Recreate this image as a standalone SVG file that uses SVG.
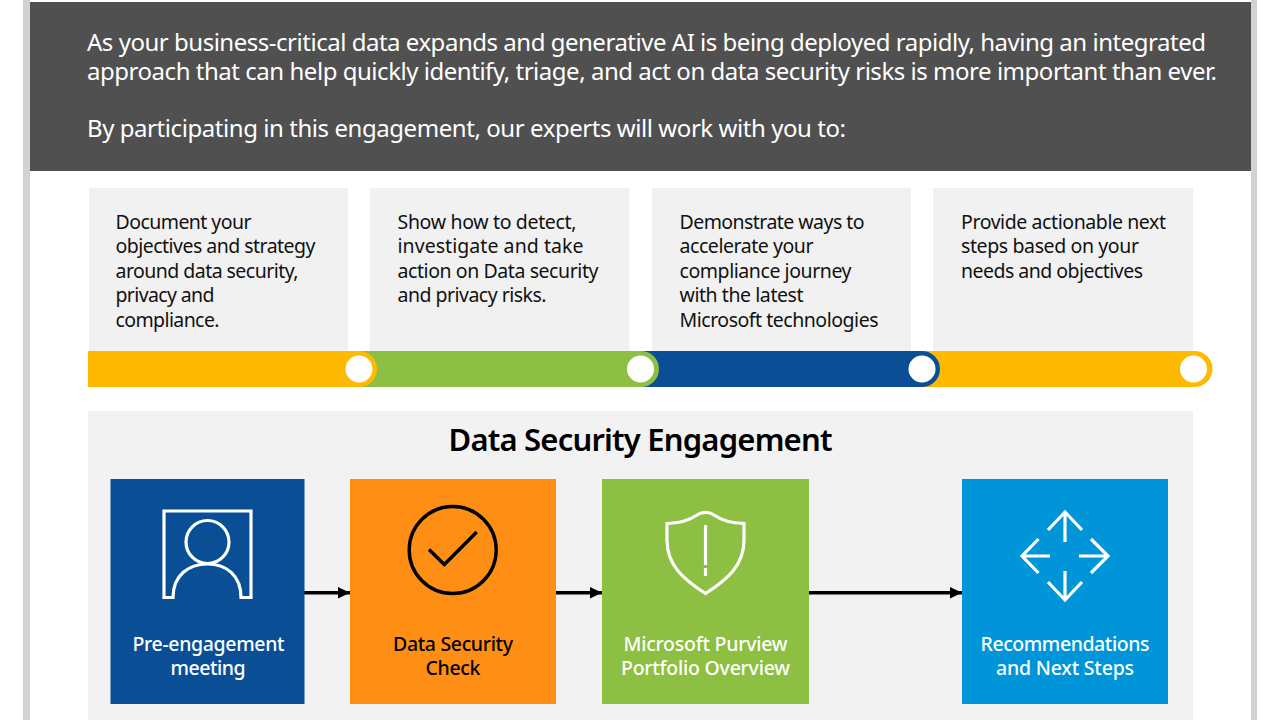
<svg xmlns="http://www.w3.org/2000/svg" width="1280" height="720" viewBox="0 0 1280 720">
<style>
text{font-family:"Noto Sans","Open Sans","Liberation Sans",sans-serif}
.h{fill:#fff;font-size:24px}
.c{fill:#111;font-size:19.5px}
.card{fill:#f1f1f1}
.l{font-size:19.5px;font-weight:500;text-anchor:middle}
.w{fill:#fff}.k{fill:#000}
.iw{fill:none;stroke:#fff;stroke-width:3.2}
.ik{fill:none;stroke:#000;stroke-width:3.4}
.con{stroke:#000;stroke-width:3.6;fill:none;marker-end:url(#arr)}
</style>
<defs><marker id="arr" markerUnits="userSpaceOnUse" markerWidth="12" markerHeight="12" refX="12" refY="6" orient="auto"><path d="M0 0.300L12 6L0 11.700Z" fill="#000"/></marker></defs>
<rect width="1280" height="720" fill="#fff"/>
<rect x="23" y="0" width="7" height="720" fill="#d2d2d2"/>
<rect x="1251" y="0" width="6" height="720" fill="#d2d2d2"/>
<g id="banner">
<rect x="30" y="2" width="1221" height="169" fill="#505050"/>
<text class="h" x="87" y="50.500" textLength="1119">As your business-critical data expands and generative AI is being deployed rapidly, having an integrated</text>
<text class="h" x="87" y="79.500" textLength="1130">approach that can help quickly identify, triage, and act on data security risks is more important than ever.</text>
<text class="h" x="87" y="137" textLength="759">By participating in this engagement, our experts will work with you to:</text>
</g>
<g id="card1"><rect class="card" x="89" y="188" width="259" height="163"/>
<text class="c" x="115.500" y="229" textLength="136">Document your</text><text class="c" x="115.500" y="253" textLength="200">objectives and strategy</text><text class="c" x="115.500" y="278" textLength="183">around data security,</text><text class="c" x="115.500" y="302" textLength="99">privacy and</text><text class="c" x="115.500" y="327" textLength="104">compliance.</text></g>
<g id="card2"><rect class="card" x="369.500" y="188" width="260" height="163"/>
<text class="c" x="397.500" y="229" textLength="179">Show how to detect,</text><text class="c" x="397.500" y="253" textLength="186">investigate and take</text><text class="c" x="397.500" y="278" textLength="201">action on Data security</text><text class="c" x="397.500" y="302" textLength="149">and privacy risks.</text></g>
<g id="card3"><rect class="card" x="652" y="188" width="259" height="163"/>
<text class="c" x="679.500" y="229" textLength="185">Demonstrate ways to</text><text class="c" x="679.500" y="253" textLength="134">accelerate your</text><text class="c" x="679.500" y="278" textLength="172">compliance journey</text><text class="c" x="679.500" y="302" textLength="124">with the latest</text><text class="c" x="679.500" y="327" textLength="199">Microsoft technologies</text></g>
<g id="card4"><rect class="card" x="933" y="188" width="260" height="163"/>
<text class="c" x="961" y="229" textLength="205">Provide actionable next</text><text class="c" x="961" y="253" textLength="178">steps based on your</text><text class="c" x="961" y="278" textLength="182">needs and objectives</text></g>
<g id="timeline">
<path d="M920 351H1194.500A18 18 0 0 1 1194.500 387H920Z" fill="#ffb900"/>
<path d="M640 351H922A18 18 0 0 1 922 387H640Z" fill="#0a4f96"/>
<path d="M350 351H641A18 18 0 0 1 641 387H350Z" fill="#8cbf42"/>
<path d="M88 351H359A18 18 0 0 1 359 387H88Z" fill="#ffb900"/>
<circle class="w" cx="359" cy="369" r="13.500"/><circle class="w" cx="640.500" cy="369" r="13.500"/><circle class="w" cx="922" cy="369" r="13.500"/><circle class="w" cx="1193.500" cy="369" r="13.500"/>
</g>
<rect id="panel" x="88" y="411" width="1105" height="309" fill="#f2f2f2"/>
<text x="640.500" y="451" text-anchor="middle" font-size="31" font-weight="600" fill="#000" textLength="384">Data Security Engagement</text>
<g id="connectors">
<path class="con" d="M304 592.800H350"/><path class="con" d="M556 592.800H602"/><path class="con" d="M809 592.800H962"/>
</g>
<g id="n1"><rect x="110.500" y="479" width="194" height="225" fill="#0a4f96"/>
<path class="iw" d="M173 597.500H164V511H251V597.500H241C241 575 226 564 207.500 564C189 564 173 575 173 597.500Z"/><circle class="iw" cx="207.500" cy="542" r="21.500"/>
<text class="l w" x="208.500" y="650.500" textLength="152">Pre-engagement</text><text class="l w" x="208" y="674.500" textLength="75">meeting</text></g>
<g id="n2"><rect x="350" y="479" width="206" height="225" fill="#ff8f14"/>
<circle class="ik" cx="452.700" cy="550" r="43.500"/><path class="ik" d="M429 549.500L444.300 564.500L476.700 532"/>
<text class="l k" x="453" y="650.500" textLength="120">Data Security</text><text class="l k" x="453" y="674.500" textLength="55">Check</text></g>
<g id="n3"><rect x="602" y="479" width="207" height="225" fill="#8cbf42"/>
<path class="iw" d="M667 523.500C682 523 690 520 697 515C702 511.500 709 511.500 714 515C721 520 729 523 744 523.500V540C744 565 728 579 705.500 593.500C683 579 667 565 667 540Z"/><path class="iw" d="M705.500 525V565M705.500 568V576" stroke-width="3"/>
<text class="l w" x="705.500" y="650.500" textLength="164">Microsoft Purview</text><text class="l w" x="705.500" y="674.500" textLength="169">Portfolio Overview</text></g>
<g id="n4"><rect x="962" y="479" width="206" height="225" fill="#0095d8"/>
<path class="iw" d="M1065 513V542M1048 530L1065 512L1082 530M1065 571V600M1048 582L1065 600L1082 582M1022 556H1050M1038.500 539L1022 556L1038.500 573M1079 556H1108M1091 539L1108 556L1091 573"/>
<text class="l w" x="1065" y="650.500" textLength="169">Recommendations</text><text class="l w" x="1065" y="674.500" textLength="138">and Next Steps</text></g>
</svg>
